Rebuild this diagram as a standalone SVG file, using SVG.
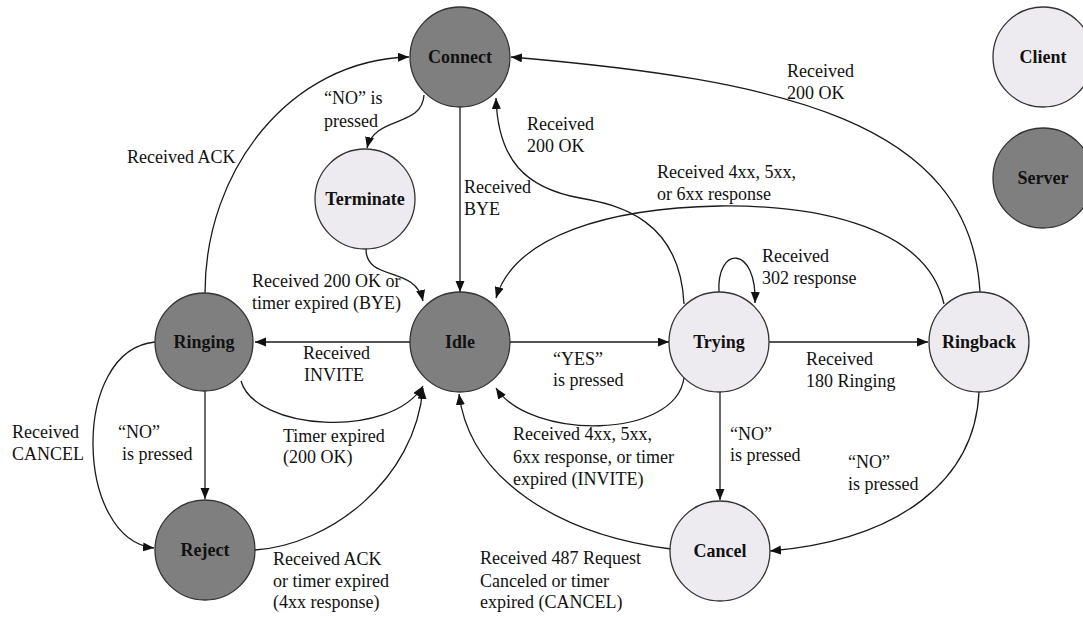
<svg xmlns="http://www.w3.org/2000/svg" width="1083" height="617" viewBox="0 0 1083 617">
<style>
.server{fill:#7f7f7f;stroke:#333;stroke-width:1.3}
.client{fill:#eeebf0;stroke:#333;stroke-width:1.3}
.nl{font-family:'Liberation Serif','Times New Roman','DejaVu Serif',serif;font-size:18px;font-weight:bold;fill:#111;text-anchor:middle}
.el{font-family:'Liberation Serif','Times New Roman','DejaVu Serif',serif;font-size:18px;fill:#111}
.c{fill:none;stroke:#1a1a1a;stroke-width:1.3}
.a{marker-end:url(#arr)}
</style>
<defs>
<marker id="arr" markerUnits="userSpaceOnUse" markerWidth="12" markerHeight="10" refX="11" refY="4.5" orient="auto">
<path d="M0,0 L11,4.5 L0,9 z" fill="#111"/>
</marker>
</defs>
<rect width="1083" height="617" fill="#fff"/>
<g id="connectors">
<path class="c a" d="M205,293 C205,170 290,60 409,57"/>
<path class="c a" d="M424,95 C422,128 375,115 367,148"/>
<path class="c a" d="M366,249 C366,282 415,265 423,301"/>
<path class="c a" d="M460,107 L460,292"/>
<path class="c a" d="M684,304 C680,220 620,205 580,198 C525,188 498,160 496,98"/>
<path class="c a" d="M980,292 C970,120 780,80 511,57"/>
<path class="c a" d="M944,304 C925,220 800,205 720,206 C610,208 515,235 496,298"/>
<path class="c a" d="M719,293 C716,245 757,245 755,303"/>
<path class="c a" d="M410,342 L255,342"/>
<path class="c a" d="M509,342 L669,342"/>
<path class="c a" d="M769,342 L928,342"/>
<path class="c a" d="M684,378 C675,440 530,440 496,388"/>
<path class="c a" d="M241,381 C255,430 390,440 423,386"/>
<path class="c a" d="M255,550 C330,545 415,480 423,388"/>
<path class="c a" d="M671,549 C560,535 470,480 459,394"/>
<path class="c a" d="M205,391 L205,499"/>
<path class="c a" d="M155,342 C70,350 75,540 154,548"/>
<path class="c a" d="M720,392 L720,500"/>
<path class="c a" d="M979,392 C975,480 900,540 770,551"/>
</g>
<g id="labels" font-family="Liberation Serif, serif">
<text class="el" x="324" y="104">“NO” is</text>
<text class="el" x="324" y="127">pressed</text>
<text class="el" x="127" y="163">Received ACK</text>
<text class="el" x="527" y="130">Received</text>
<text class="el" x="527" y="152">200 OK</text>
<text class="el" x="464" y="193">Received</text>
<text class="el" x="464" y="215">BYE</text>
<text class="el" x="787" y="77">Received</text>
<text class="el" x="787" y="99">200 OK</text>
<text class="el" x="657" y="178">Received 4xx, 5xx,</text>
<text class="el" x="657" y="200">or 6xx  response</text>
<text class="el" x="762" y="262">Received</text>
<text class="el" x="762" y="284">302 response</text>
<text class="el" x="252" y="287">Received 200 OK or</text>
<text class="el" x="252" y="309">timer expired (BYE)</text>
<text class="el" x="303" y="359">Received</text>
<text class="el" x="304" y="381">INVITE</text>
<text class="el" x="553" y="365">“YES”</text>
<text class="el" x="553" y="386">is pressed</text>
<text class="el" x="806" y="365">Received</text>
<text class="el" x="806" y="387">180 Ringing</text>
<text class="el" x="12" y="438">Received</text>
<text class="el" x="12" y="460">CANCEL</text>
<text class="el" x="118" y="438">“NO”</text>
<text class="el" x="122" y="460">is pressed</text>
<text class="el" x="283" y="442">Timer expired</text>
<text class="el" x="283" y="463">(200 OK)</text>
<text class="el" x="513" y="440">Received 4xx, 5xx,</text>
<text class="el" x="513" y="463">6xx  response, or timer</text>
<text class="el" x="513" y="485">expired (INVITE)</text>
<text class="el" x="730" y="440">“NO”</text>
<text class="el" x="730" y="461">is pressed</text>
<text class="el" x="848" y="468">“NO”</text>
<text class="el" x="848" y="490">is pressed</text>
<text class="el" x="273" y="565">Received ACK</text>
<text class="el" x="273" y="587">or timer expired</text>
<text class="el" x="273" y="608">(4xx response)</text>
<text class="el" x="480" y="564">Received 487 Request</text>
<text class="el" x="480" y="587">Canceled or timer</text>
<text class="el" x="480" y="608">expired (CANCEL)</text>
</g>
<g id="node-connect"><circle class="server" cx="460" cy="57" r="50"/><text class="nl" x="460" y="63">Connect</text></g>
<g id="node-terminate"><circle class="client" cx="365" cy="199" r="50"/><text class="nl" x="365" y="205">Terminate</text></g>
<g id="node-idle"><circle class="server" cx="460" cy="342" r="50"/><text class="nl" x="460" y="348">Idle</text></g>
<g id="node-ringing"><circle class="server" cx="204" cy="342" r="49"/><text class="nl" x="204" y="348">Ringing</text></g>
<g id="node-trying"><circle class="client" cx="719" cy="342" r="50"/><text class="nl" x="719" y="348">Trying</text></g>
<g id="node-ringback"><circle class="client" cx="979" cy="342" r="50"/><text class="nl" x="979" y="348">Ringback</text></g>
<g id="node-reject"><circle class="server" cx="205" cy="550" r="50"/><text class="nl" x="205" y="556">Reject</text></g>
<g id="node-cancel"><circle class="client" cx="720" cy="551" r="50"/><text class="nl" x="720" y="557">Cancel</text></g>
<g id="node-client"><circle class="client" cx="1043" cy="57" r="50"/><text class="nl" x="1043" y="63">Client</text></g>
<g id="node-server"><circle class="server" cx="1043" cy="178" r="50"/><text class="nl" x="1043" y="184">Server</text></g>
</svg>
